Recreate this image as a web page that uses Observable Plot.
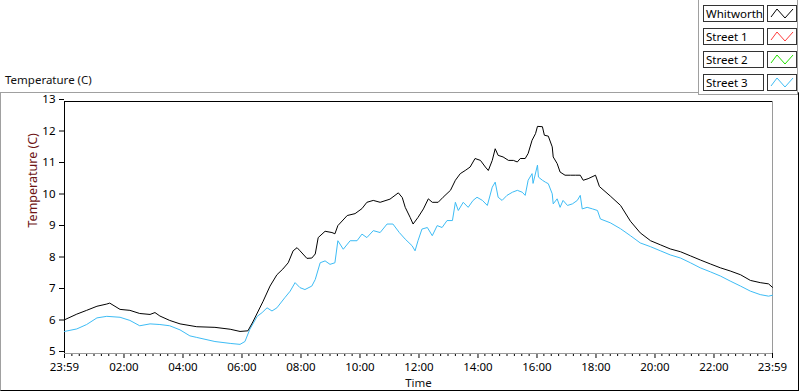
<!DOCTYPE html>
<html>
<head>
<meta charset="utf-8">
<script src="https://cdn.jsdelivr.net/npm/d3@7"></script>
<script src="https://cdn.jsdelivr.net/npm/@observablehq/plot@0.6"></script>
<style>
  body { margin: 0; background: #fff; }
  #wrap { position: relative; width: 800px; height: 392px; overflow: hidden; font-family: "Noto Sans", sans-serif; }
  #wrap svg { position: absolute; left: 0; top: 0; }
  .title { position: absolute; left: 5px; top: 72px; font-size: 11.5px; color: #111; }
  .panel { position: absolute; left: 0; top: 92px; width: 797px; height: 297px; border-top: 1px solid #a0a0a0; border-left: 1px solid #a0a0a0; border-right: 1px solid #000; border-bottom: 1px solid #000; }
  .legpanel { position: absolute; left: 698px; top: -2px; width: 98px; height: 96px; border-left: 1px solid #a0a0a0; border-bottom: 1px solid #a0a0a0; border-right: 1px solid #a0a0a0; background: #fff; }
  .lab { position: absolute; left: 703px; border: 1px solid #333; font-size: 11.5px; line-height: 15px; padding-left: 2px; box-sizing: border-box; width: 61px; height: 17px; color: #000; white-space: nowrap; }
  .sw { position: absolute; left: 767px; width: 30px; height: 17px; border: 1px solid #333; box-sizing: border-box; background: #fff; }
  .sw svg { position: absolute; left: 0; top: 0; }
</style>
</head>
<body>
<div id="wrap">
  <div class="panel"></div>
  <div class="legpanel"></div>
  <div class="title">Temperature (C)</div>
</div>
<script>
// ---- data (minutes after 23:59 start, temperature in C) ----
const whitworthMinutes = [0,25,45,66,86,92,113,133,153,174,184,194,214,235,269,306,337,357,373,383,404,418,432,444,455,465,473,479,493,503,510,516,530,544,550,556,575,591,605,615,628,642,662,679,687,693,703,709,719,730,740,748,760,770,785,795,805,815,825,835,846,856,862,870,876,882,892,903,913,921,927,937,943,951,958,962,972,976,984,992,994,1002,1008,1018,1029,1039,1049,1055,1065,1080,1088,1110,1131,1151,1171,1192,1212,1232,1253,1273,1293,1314,1334,1354,1375,1395,1415,1432,1440];
const whitworthTemps = [6.07,6.25,6.37,6.5,6.57,6.6,6.4,6.37,6.27,6.24,6.3,6.19,6.05,5.94,5.85,5.83,5.77,5.7,5.72,6.0,6.66,7.14,7.5,7.68,7.88,8.26,8.36,8.26,8.02,8.03,8.16,8.68,8.88,8.84,8.8,9.06,9.38,9.44,9.6,9.8,9.86,9.8,9.9,10.1,9.95,9.64,9.32,9.11,9.32,9.59,9.91,9.8,9.8,9.96,10.18,10.5,10.71,10.81,10.92,11.19,11.13,10.92,10.81,11.13,11.5,11.29,11.24,11.13,11.13,11.08,11.19,11.19,11.35,11.77,11.98,12.21,12.2,11.93,11.9,11.56,11.24,11.03,10.76,10.66,10.66,10.66,10.66,10.5,10.55,10.66,10.3,10.0,9.7,9.2,8.83,8.58,8.45,8.32,8.23,8.1,7.97,7.84,7.72,7.62,7.5,7.32,7.25,7.21,7.1];

const street3Minutes = [0,25,45,66,86,113,133,153,174,194,214,235,255,269,306,337,357,367,377,392,402,412,422,432,448,459,469,479,489,503,510,520,530,540,550,556,567,581,595,605,615,628,642,656,668,681,693,707,713,719,727,738,748,758,768,778,789,795,801,811,821,831,839,850,860,870,876,882,890,900,911,921,931,937,943,951,953,962,964,972,978,984,992,994,1002,1008,1014,1023,1033,1043,1049,1053,1063,1074,1084,1090,1110,1131,1151,1171,1192,1212,1232,1253,1273,1293,1314,1334,1354,1375,1395,1415,1432,1440];
const street3Temps = [5.7,5.78,5.92,6.13,6.18,6.15,6.05,5.88,5.94,5.92,5.88,5.75,5.56,5.51,5.38,5.32,5.29,5.38,5.77,6.18,6.3,6.45,6.35,6.45,6.77,6.98,7.25,7.09,7.03,7.14,7.35,7.88,7.94,7.83,7.88,8.58,8.31,8.58,8.58,8.79,8.68,8.9,8.84,9.11,9.11,8.84,8.63,8.42,8.26,8.58,8.95,9.0,8.74,9.06,9.0,9.22,9.22,9.8,9.54,9.8,9.64,9.86,9.96,9.86,9.7,10.28,10.44,9.96,9.86,10.02,10.12,10.18,10.12,10.02,10.5,10.71,10.4,10.98,10.6,10.5,10.44,10.39,10.07,9.75,9.91,9.64,9.86,9.7,9.75,9.86,10.02,9.59,9.64,9.59,9.54,9.27,9.15,8.96,8.74,8.51,8.39,8.26,8.13,8.03,7.88,7.72,7.59,7.46,7.3,7.14,6.98,6.87,6.82,6.85];

const seriesNames = ["Whitworth", "Street 1", "Street 2", "Street 3"];
const seriesColors = ["#000000", "#ff3b3b", "#22e000", "#3dbcf5"];

const yTicks = [5,6,7,8,9,10,11,12,13];
const xTickMinutes = [0,121,241,361,481,601,721,841,961,1081,1201,1321,1440];
const xTickLabels = ["23:59","02:00","04:00","06:00","08:00","10:00","12:00","14:00","16:00","18:00","20:00","22:00","23:59"];
const yLabel = "Temperature (C)";
const xLabel = "Time";

// ---- build ----
const whitworth = whitworthMinutes.map((m, i) => ({m, t: whitworthTemps[i]}));
const street3 = street3Minutes.map((m, i) => ({m, t: street3Temps[i]}));
const labelMap = new Map(xTickMinutes.map((m, i) => [m, xTickLabels[i]]));
const minorTicks = d3.range(0, 1441, 15).filter(m => !xTickMinutes.some(M => Math.abs(M - m) < 3));

const chart = Plot.plot({
  width: 800,
  height: 392,
  marginLeft: 64,
  marginRight: 28,
  marginTop: 101,
  marginBottom: 39,
  x: {domain: [0, 1440], label: null},
  y: {domain: [5, 13], label: null},
  style: {fontFamily: "'Noto Sans', sans-serif", fontSize: "11.5px", color: "#000", background: "transparent", overflow: "visible"},
  marks: [
    Plot.axisY({ticks: yTicks, tickSize: 5, tickPadding: 4, label: null, tickFormat: d => String(d), fontSize: 11.5, dy: -2}),
    Plot.axisX({ticks: xTickMinutes, tickSize: 5, tickPadding: 4, label: null, tickFormat: d => labelMap.get(d), fontSize: 11.5}),
    Plot.axisX({ticks: minorTicks, tickSize: 3, label: null, tickFormat: () => ""}),
    Plot.ruleY([5], {stroke: "#9a9a9a"}),
    Plot.ruleX([1440], {stroke: "#9a9a9a"}),
    Plot.ruleY([13], {stroke: "#000"}),
    Plot.ruleX([0], {stroke: "#000"}),
    Plot.line(street3, {x: "m", y: "t", stroke: seriesColors[3], strokeWidth: 1}),
    Plot.line(whitworth, {x: "m", y: "t", stroke: seriesColors[0], strokeWidth: 1}),
    Plot.text([yLabel], {frameAnchor: "left", dx: -32, rotate: -90, fill: "#6e1414", fontSize: 12.5}),
    Plot.text([xLabel], {frameAnchor: "bottom", dy: 33, fill: "#111", fontSize: 11.5})
  ]
});

const wrap = document.getElementById("wrap");
wrap.insertBefore(chart, wrap.firstChild);

// legend
const tops = [5, 28, 51, 74];
seriesNames.forEach((name, i) => {
  const lab = document.createElement("div");
  lab.className = "lab";
  lab.style.top = tops[i] + "px";
  lab.textContent = name;
  wrap.appendChild(lab);
  const sw = document.createElement("div");
  sw.className = "sw";
  sw.style.top = tops[i] + "px";
  const s = d3.create("svg").attr("width", 28).attr("height", 15);
  s.append("polyline")
    .attr("points", "3,11 9,3 17,12 25,3")
    .attr("fill", "none")
    .attr("stroke", seriesColors[i])
    .attr("stroke-width", 1);
  sw.appendChild(s.node());
  wrap.appendChild(sw);
});
</script>
</body>
</html>
